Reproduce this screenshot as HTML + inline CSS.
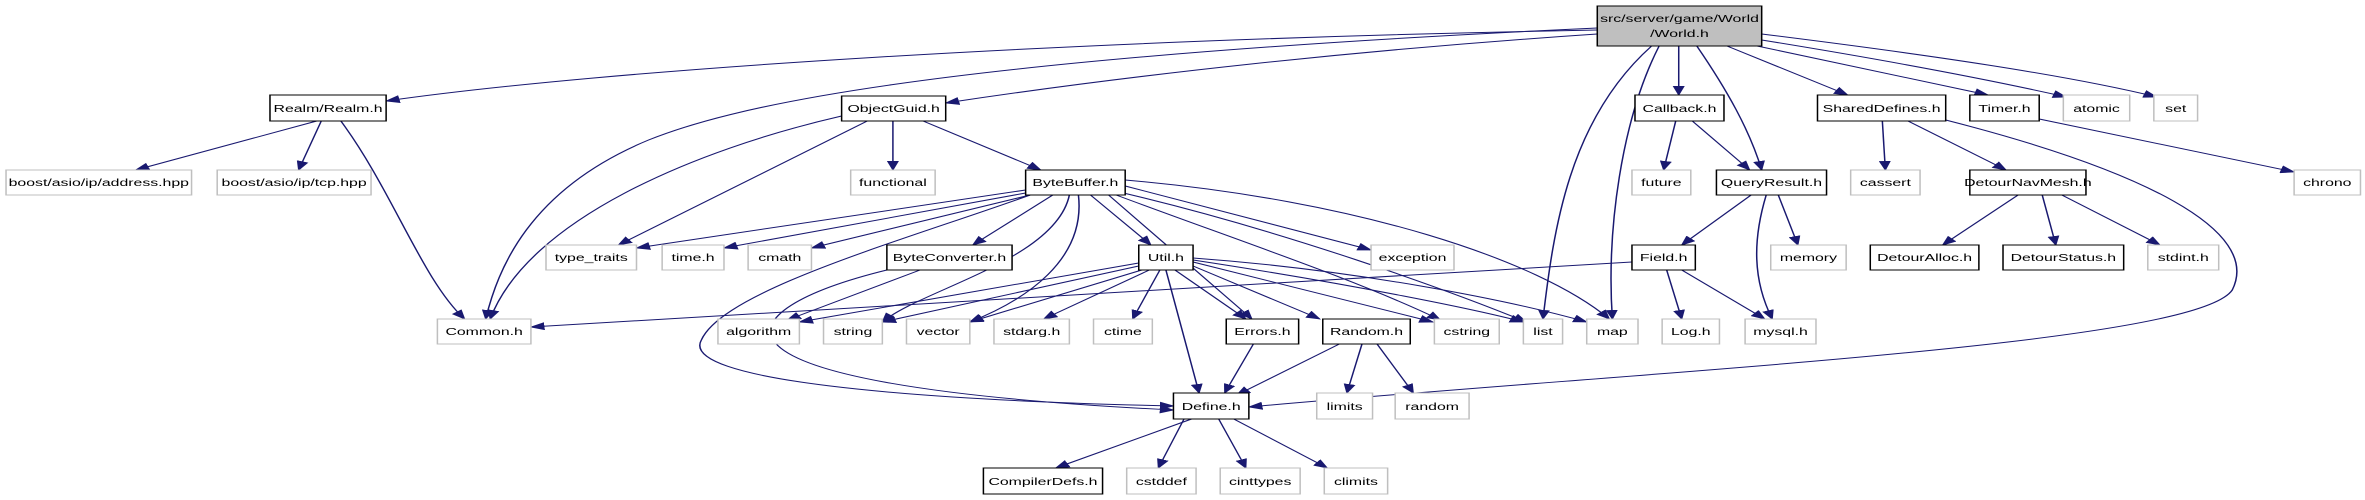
<!DOCTYPE html>
<html><head><style>html,body{margin:0;padding:0;background:#fff}svg{display:block}</style></head><body>
<svg width="2365" height="500" viewBox="0 0 1568 500" preserveAspectRatio="none" xmlns="http://www.w3.org/2000/svg">
<defs><marker id="a" markerUnits="userSpaceOnUse" markerWidth="10" markerHeight="8" refX="9" refY="4" orient="auto"><path d="M0,0 L10,4 L0,8 z" fill="#191970"/></marker></defs>
<g fill="none" stroke="#191970" stroke-width="1" marker-end="url(#a)">
<path d="M1059,30 C700,40 400,70 256,101"/>
<path d="M1059,34 C900,50 750,75 627,103"/>
<path d="M1059,28 C600,60 480,110 430,140 C350,190 330,270 322,319"/>
<path d="M1095,46 C1040,120 1030,230 1023,319"/>
<path d="M1100,46 C1075,120 1065,230 1069,319"/>
<path d="M1113,46 L1113,95"/>
<path d="M1125,46 C1145,90 1160,130 1168,170"/>
<path d="M1145,46 L1225,95"/>
<path d="M1165,46 L1318,95"/>
<path d="M1168,40 C1250,60 1320,80 1370,97"/>
<path d="M1168,34 C1280,55 1370,75 1430,97"/>
<path d="M210,121 L90,170"/>
<path d="M213,121 L198,170"/>
<path d="M226,121 C260,190 280,280 308,319"/>
<path d="M558,116 C460,150 350,220 325,319"/>
<path d="M575,121 L410,245"/>
<path d="M592,121 L592,170"/>
<path d="M612,121 L690,170"/>
<path d="M680,190 L422,248"/>
<path d="M680,193 L480,248"/>
<path d="M683,195 L538,248"/>
<path d="M698,195 L645,245"/>
<path d="M723,195 L763,245"/>
<path d="M683,195 C600,240 480,290 465,340 C450,380 600,400 778,406"/>
<path d="M709,195 C700,260 610,290 585,322"/>
<path d="M715,195 C720,260 680,300 643,322"/>
<path d="M735,195 L830,319"/>
<path d="M740,195 C820,240 900,280 955,320"/>
<path d="M742,192 C850,230 960,290 1012,322"/>
<path d="M746,180 C900,200 1020,260 1067,319"/>
<path d="M746,186 L909,250"/>
<path d="M588,270 C480,310 440,385 778,410"/>
<path d="M610,270 L522,320"/>
<path d="M755,263 L530,322"/>
<path d="M755,266 L585,322"/>
<path d="M757,270 L643,322"/>
<path d="M762,270 L692,319"/>
<path d="M769,270 L751,319"/>
<path d="M773,270 L795,393"/>
<path d="M779,270 L826,319"/>
<path d="M791,266 L875,319"/>
<path d="M791,262 L950,322"/>
<path d="M791,260 C900,285 980,310 1010,322"/>
<path d="M791,258 C900,270 1000,300 1052,322"/>
<path d="M1082,262 L352,327"/>
<path d="M1105,270 L1115,319"/>
<path d="M1115,270 L1170,319"/>
<path d="M831,344 L812,393"/>
<path d="M888,344 L820,395"/>
<path d="M903,344 L893,393"/>
<path d="M913,344 L937,393"/>
<path d="M790,419 L700,468"/>
<path d="M785,419 L768,468"/>
<path d="M808,419 L826,468"/>
<path d="M818,419 L880,468"/>
<path d="M1111,121 L1103,170"/>
<path d="M1122,121 L1160,170"/>
<path d="M1161,195 L1115,245"/>
<path d="M1171,195 C1162,240 1162,280 1175,319"/>
<path d="M1179,195 L1192,245"/>
<path d="M1248,121 L1250,170"/>
<path d="M1265,121 L1330,170"/>
<path d="M1290,120 C1420,170 1500,230 1480,290 C1455,345 1100,370 828,407"/>
<path d="M1352,119 L1521,172"/>
<path d="M1338,195 L1288,245"/>
<path d="M1354,195 L1363,245"/>
<path d="M1367,195 L1432,245"/>
</g>
<g font-family="Liberation Sans, DejaVu Sans, sans-serif" font-size="10.5" text-anchor="middle" fill="#000">
<rect x="1059" y="6" width="109" height="40" fill="#bfbfbf" stroke="#000"/>
<text x="1113.5" y="22">src/server/game/World</text><text x="1113.5" y="37">/World.h</text>
<g stroke="#000" fill="#fff">
<rect x="179" y="95" width="77" height="26"/><rect x="558" y="96" width="69" height="25"/>
<rect x="680" y="170" width="66" height="25"/><rect x="588" y="245" width="83" height="25"/>
<rect x="755" y="245" width="36" height="25"/><rect x="813" y="319" width="48" height="25"/>
<rect x="877" y="319" width="58" height="25"/><rect x="778" y="393" width="50" height="26"/>
<rect x="652" y="468" width="79" height="26"/><rect x="1084" y="95" width="59" height="26"/>
<rect x="1138" y="170" width="73" height="25"/><rect x="1082" y="245" width="42" height="25"/>
<rect x="1205" y="95" width="85" height="26"/><rect x="1306" y="95" width="46" height="26"/>
<rect x="1306" y="170" width="77" height="25"/><rect x="1240" y="245" width="72" height="25"/>
<rect x="1328" y="245" width="80" height="25"/>
</g>
<g stroke="#bfbfbf" fill="#fff">
<rect x="4" y="170" width="123" height="25"/><rect x="144" y="170" width="102" height="25"/>
<rect x="564" y="170" width="56" height="25"/><rect x="362" y="245" width="60" height="25"/>
<rect x="439" y="245" width="41" height="25"/><rect x="496" y="245" width="42" height="25"/>
<rect x="290" y="319" width="62" height="25"/><rect x="476" y="319" width="54" height="25"/>
<rect x="546" y="319" width="39" height="25"/><rect x="601" y="319" width="42" height="25"/>
<rect x="659" y="319" width="50" height="25"/><rect x="725" y="319" width="39" height="25"/>
<rect x="747" y="468" width="46" height="26"/><rect x="1368" y="95" width="44" height="26"/>
<rect x="1428" y="95" width="29" height="26"/><rect x="1082" y="170" width="39" height="25"/>
<rect x="1227" y="170" width="46" height="25"/><rect x="1521" y="170" width="44" height="25"/>
<rect x="909" y="245" width="55" height="25"/><rect x="1174" y="245" width="50" height="25"/>
<rect x="1424" y="245" width="47" height="25"/><rect x="951" y="319" width="43" height="25"/>
<rect x="1010" y="319" width="26" height="25"/><rect x="1052" y="319" width="34" height="25"/>
<rect x="1102" y="319" width="38" height="25"/><rect x="1157" y="319" width="47" height="25"/>
<rect x="873" y="393" width="37" height="26"/><rect x="925" y="393" width="49" height="26"/>
<rect x="809" y="468" width="53" height="26"/><rect x="878" y="468" width="42" height="26"/>
</g>
<text x="217.5" y="112">Realm/Realm.h</text><text x="592.5" y="112">ObjectGuid.h</text>
<text x="713" y="186">ByteBuffer.h</text><text x="629.5" y="261">ByteConverter.h</text>
<text x="773" y="261">Util.h</text><text x="837" y="335">Errors.h</text>
<text x="906" y="335">Random.h</text><text x="803" y="410">Define.h</text>
<text x="691.5" y="485">CompilerDefs.h</text><text x="1113.5" y="112">Callback.h</text>
<text x="1174.5" y="186">QueryResult.h</text><text x="1103" y="261">Field.h</text>
<text x="1247.5" y="112">SharedDefines.h</text><text x="1329" y="112">Timer.h</text>
<text x="1344.5" y="186">DetourNavMesh.h</text><text x="1276" y="261">DetourAlloc.h</text>
<text x="1368" y="261">DetourStatus.h</text>
<g fill="#000">
<text x="65.5" y="186">boost/asio/ip/address.hpp</text><text x="195" y="186">boost/asio/ip/tcp.hpp</text>
<text x="592" y="186">functional</text><text x="392" y="261">type_traits</text>
<text x="459.5" y="261">time.h</text><text x="517" y="261">cmath</text>
<text x="321" y="335">Common.h</text><text x="503" y="335">algorithm</text>
<text x="565.5" y="335">string</text><text x="622" y="335">vector</text>
<text x="684" y="335">stdarg.h</text><text x="744.5" y="335">ctime</text>
<text x="770" y="485">cstddef</text><text x="1390" y="112">atomic</text>
<text x="1442.5" y="112">set</text><text x="1101.5" y="186">future</text>
<text x="1250" y="186">cassert</text><text x="1543" y="186">chrono</text>
<text x="936.5" y="261">exception</text><text x="1199" y="261">memory</text>
<text x="1447.5" y="261">stdint.h</text><text x="972.5" y="335">cstring</text>
<text x="1023" y="335">list</text><text x="1069" y="335">map</text>
<text x="1121" y="335">Log.h</text><text x="1180.5" y="335">mysql.h</text>
<text x="891.5" y="410">limits</text><text x="949.5" y="410">random</text>
<text x="835.5" y="485">cinttypes</text><text x="899" y="485">climits</text>
</g>
</g>
</svg>
</body></html>
